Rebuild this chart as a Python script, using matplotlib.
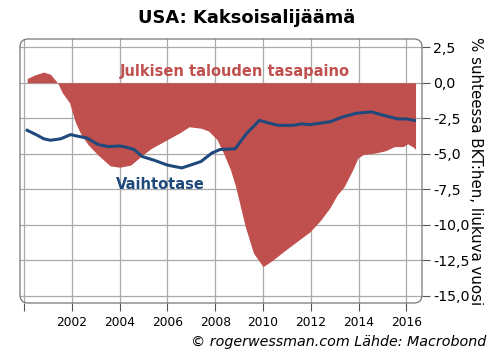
import matplotlib
matplotlib.use('Agg')
import matplotlib.pyplot as plt
from matplotlib.patches import FancyBboxPatch

# Julkisen talouden tasapaino (% BKT, liukuva vuosi)
gov_years = [2000.13, 2000.45, 2000.83, 2001.1, 2001.4, 2001.6, 2001.9, 2002.15,
             2002.4, 2002.7, 2003.1, 2003.6, 2004.0, 2004.46, 2004.88, 2005.3,
             2006.0, 2006.54, 2006.9, 2007.4, 2007.72, 2008.07, 2008.33, 2008.63,
             2008.85, 2009.25, 2009.6, 2010.0, 2010.4, 2010.85, 2011.4, 2011.96,
             2012.4, 2012.8, 2013.1, 2013.4, 2013.76, 2013.97, 2014.2, 2014.7,
             2015.1, 2015.5, 2015.85, 2016.05, 2016.3, 2016.38]
gov_balance = [0.3, 0.55, 0.75, 0.6, 0.0, -0.7, -1.4, -2.8,
               -3.7, -4.4, -5.1, -5.85, -5.95, -5.8, -5.2, -4.65,
               -4.0, -3.5, -3.1, -3.2, -3.4, -4.0, -4.9, -6.1,
               -7.3, -10.1, -12.0, -12.95, -12.5, -11.9, -11.2, -10.5,
               -9.7, -8.8, -7.9, -7.3, -6.1, -5.3, -5.05, -4.95,
               -4.8, -4.5, -4.5, -4.3, -4.55, -4.7]

# Vaihtotase (% BKT, liukuva vuosi)
ca_years = [2000.13, 2000.5, 2000.83, 2001.1, 2001.53, 2001.95, 2002.2, 2002.64,
            2003.1, 2003.54, 2004.0, 2004.3, 2004.6, 2004.95, 2005.43, 2006.0,
            2006.6, 2006.96, 2007.4, 2007.86, 2008.2, 2008.83, 2009.32, 2009.85,
            2010.15, 2010.64, 2011.26, 2011.6, 2011.96, 2012.38, 2012.8, 2013.35,
            2013.9, 2014.53, 2014.95, 2015.64, 2016.0, 2016.33]
ca_balance = [-3.35, -3.65, -3.95, -4.05, -3.95, -3.65, -3.75, -3.9,
              -4.35, -4.5, -4.45, -4.55, -4.7, -5.2, -5.45, -5.8,
              -6.0, -5.8, -5.55, -4.95, -4.7, -4.65, -3.55, -2.65,
              -2.8, -3.0, -3.0, -2.9, -2.95, -2.85, -2.75, -2.4,
              -2.15, -2.05, -2.25, -2.55, -2.55, -2.65]

x_ticks = list(range(2000, 2017, 2))
x_labels = [''] + [str(y) for y in x_ticks[1:]]
y_ticks = [2.5, 0, -2.5, -5, -7.5, -10, -12.5, -15]
y_labels = ['2,5', '0,0', '-2,5', '-5,0', '-7,5', '-10,0', '-12,5', '-15,0']

red = '#c0504d'
blue = '#1f497d'

W, H = 496, 361
fig = plt.figure(figsize=(W / 100, H / 100), dpi=100)
ax = fig.add_axes([20 / W, 1 - 303 / H, 402 / W, 264 / H])

ax.fill_between(gov_years, gov_balance, 0, color=red, linewidth=0, zorder=2)
ax.plot(ca_years, ca_balance, color=blue, linewidth=2.2, zorder=3)

ax.set_xlim(1999.83, 2016.65)
ax.set_ylim(-15.51, 3.08)
ax.set_xticks(x_ticks)
ax.set_xticklabels(x_labels, fontsize=8.8)
ax.set_yticks(y_ticks)
ax.set_yticklabels(y_labels, fontsize=10.2)
ax.yaxis.tick_right()
ax.tick_params(axis='both', colors='#555555', labelcolor='black', length=6, width=0.8)
ax.tick_params(axis='y', pad=2)
ax.grid(True, color='#aaaaaa', linewidth=0.9, zorder=1)
ax.set_axisbelow(True)
for s in ax.spines.values():
    s.set_visible(False)

# rounded frame
frame = FancyBboxPatch((0, 0), 1, 1, boxstyle='round,pad=0,rounding_size=0.02',
                       transform=ax.transAxes, fill=False, edgecolor='#777777',
                       linewidth=0.9, clip_on=False, zorder=4,
                       mutation_aspect=402 / 264)
ax.add_patch(frame)

ax.yaxis.set_label_position('right')
ax.set_ylabel('% suhteessa BKT:hen, liukuva vuosi', rotation=270, fontsize=10.8,
              labelpad=10)

ax.text(2008.81, 0.8, 'Julkisen talouden tasapaino', color=red, fontsize=10.5,
        fontweight='bold', ha='center', va='center', zorder=5)
ax.text(2005.71, -7.18, 'Vaihtotase', color=blue, fontsize=10.5,
        fontweight='bold', ha='center', va='center', zorder=5)

fig.text(247 / W, 1 - 18 / H, 'USA: Kaksoisalijäämä', fontsize=12.9,
         fontweight='bold', ha='center', va='center')
fig.text(486 / W, 1 - 342 / H, '© rogerwessman.com Lähde: Macrobond',
         fontsize=10.3, style='italic', ha='right', va='center')

fig.savefig('out.png', dpi=100)
